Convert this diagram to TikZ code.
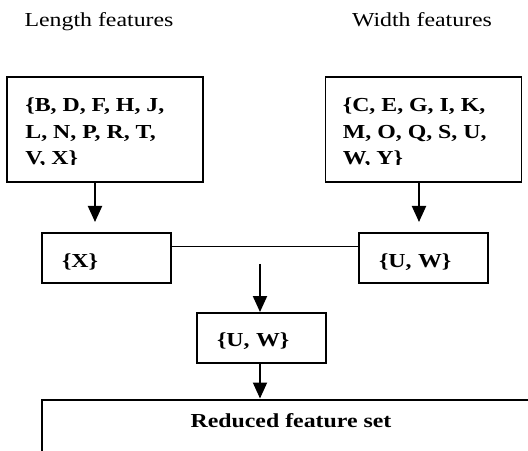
\documentclass[tikz,border=0pt]{standalone}
\usepackage{fontspec}
\setmainfont{Liberation Serif}[FakeStretch=1.2]
\usetikzlibrary{arrows.meta,
                positioning}

\newcommand{\fsz}{\fontsize{11.3}{15.3}\selectfont}

\tikzset{
  title/.style={anchor=base, font=\fsz},
  bigbox/.style={draw, line width=1.1pt, minimum width=3.92cm, minimum height=2.1cm},
  settext/.style={font=\fsz\bfseries, align=left, inner sep=0pt},
  setbox/.style={draw, line width=1.1pt, minimum width=2.58cm, minimum height=1cm,
                 text width=1.78cm, inner xsep=0.4cm, inner ysep=0pt, align=left,
                 text height=0.6cm, text depth=0.24cm, font=\fsz\bfseries},
  redbox/.style={draw, line width=1.7pt, minimum width=9.96cm, minimum height=1.4cm,
                 text height=0.3cm, text depth=0.62cm, font=\fsz\bfseries},
  arr/.style={-{Triangle[length=0.32cm,width=0.28cm]}, line width=1.1pt}
}

\begin{document}
\begin{tikzpicture}
            \useasboundingbox (0,0) rectangle (10.56,9);
            \clip (0,0) rectangle (10.56,9);

            \node [title] (lenlab) at (1.98,8.46) {Length features};
            \node [title] (widlab) at (8.44,8.46) {Width features};

            % the two feature lists
            \node [bigbox] (len) at (2.10,6.41) {};
            \node [bigbox] (wid) at (8.47,6.41) {};
            \begin{scope}
              \clip ([yshift=0.36cm]len.south west) rectangle (len.north east);
              \node [settext, anchor=base west] (lentxt) at ([xshift=0.38cm,yshift=0.36cm]len.south west)
                {\{B, D, F, H, J,\\ L, N, P, R, T,\\ V, X\}};
            \end{scope}
            \begin{scope}
              \clip ([yshift=0.36cm]wid.south west) rectangle (wid.north east);
              \node [settext, anchor=base west] (widtxt) at ([xshift=0.36cm,yshift=0.36cm]wid.south west)
                {\{C, E, G, I, K,\\ M, O, Q, S, U,\\ W, Y\}};
            \end{scope}

            \node [setbox] (xset) at (2.13,3.84) {\{X\}};
            \node [setbox] (uwset) at (8.47,3.84) {\{U, W\}};
            \node [setbox] (mid) at (5.23,2.24) {\{U, W\}};
            \node [redbox] (red) at (5.82,0.30) {Reduced feature set};

            \coordinate (ltip) at (1.90,4.56);
            \coordinate (rtip) at (8.38,4.56);
            \coordinate (mtop) at (5.20,3.72);

            \draw [arr] (len.south -| ltip) -- (ltip);
            \draw [arr] (wid.south -| rtip) -- (rtip);
            \draw [line width = 0.6pt] ([yshift=0.23cm]xset.east) -- ([yshift=0.23cm]uwset.west);
            \draw [arr] (mtop) -- (mtop |- mid.north);
            \draw [arr] (mid.south -| mtop) -- (mtop |- red.north);
\end{tikzpicture}
\end{document}
